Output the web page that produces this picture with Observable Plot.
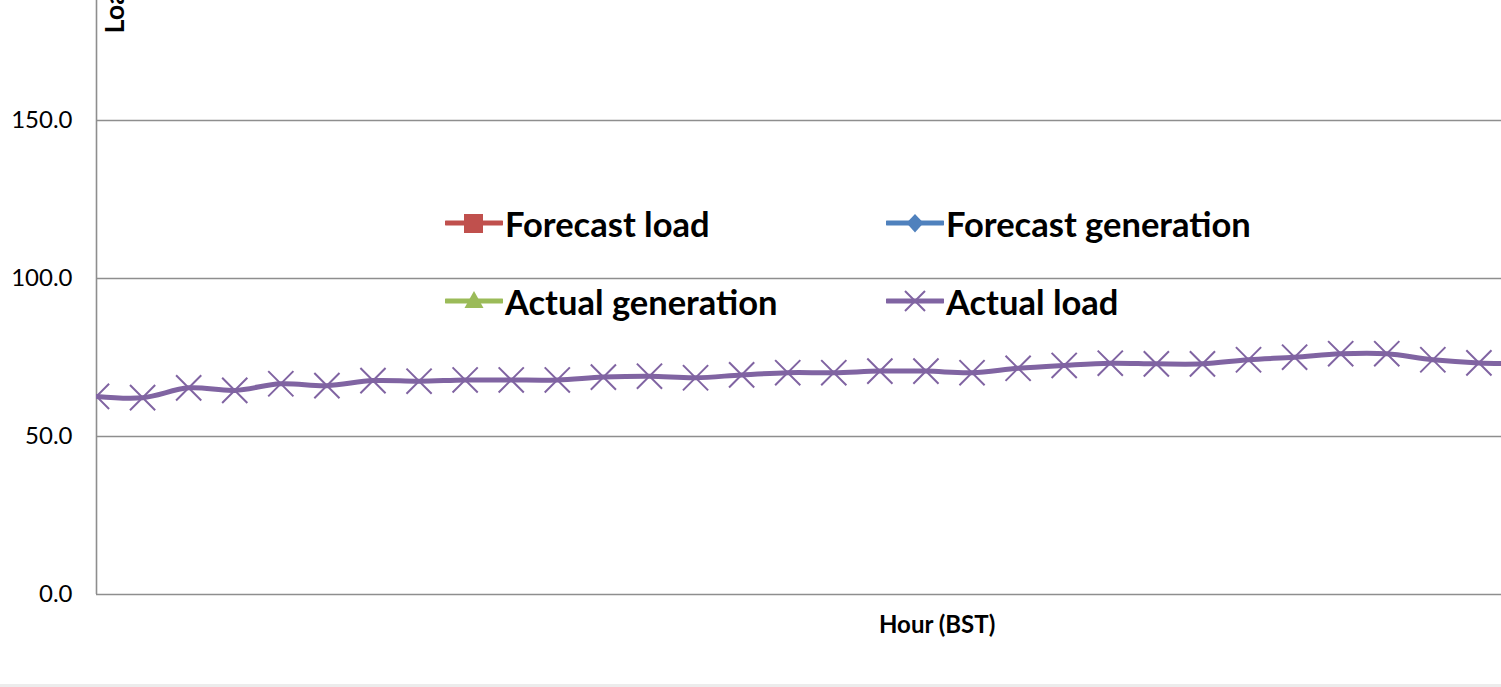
<!DOCTYPE html>
<html>
<head>
<meta charset="utf-8">
<script src="https://cdn.jsdelivr.net/npm/d3@7"></script>
<script src="https://cdn.jsdelivr.net/npm/@observablehq/plot@0.6"></script>
<style>
  html, body { margin: 0; padding: 0; background: #fff; }
  #wrap { position: relative; width: 1501px; height: 687px; overflow: hidden; font-family: Lato, "Open Sans", sans-serif; }
  #chart svg { display: block; }
  #legend { position: absolute; left: 445px; top: 203px; display: grid; grid-template-columns: 441px 441px; grid-auto-rows: 78px; }
  .entry { display: flex; align-items: center; height: 40px; }
  .entry svg { width: 58px; height: 26px; margin-right: 2px; flex: none; }
  .entry span { font-weight: bold; font-size: 34.5px; color: #000; white-space: nowrap; }
  #xlabel { position: absolute; left: 879px; top: 609px; font-weight: bold; font-size: 24px; color: #000; }
  #bottomline { position: absolute; left: 0; top: 684px; width: 1501px; height: 3px; background: #ececec; }
</style>
</head>
<body>
<div id="wrap">
  <div id="chart"></div>
  <div id="legend"></div>
  <div id="xlabel">Hour (BST)</div>
  <div id="bottomline"></div>
</div>
<script>
// ---- data ----
const seriesNames = ["Forecast load", "Forecast generation", "Actual generation", "Actual load"];
const seriesColors = ["#C0504D", "#4F81BD", "#9BBB59", "#8064A2"];
const seriesSymbols = ["square", "diamond", "triangle", "times"];
// half-hour period index (the chart is cropped on the right)
const periods = [0,1,2,3,4,5,6,7,8,9,10,11,12,13,14,15,16,17,18,19,20,21,22,23,24,25,26,27,28,29,30,31];
const actualLoad = [62.7, 62.3, 65.4, 64.6, 66.7, 66.1, 67.7, 67.5, 67.9, 67.9, 67.9,
                    68.8, 69.1, 68.6, 69.5, 70.2, 70.2, 70.7, 70.7, 70.2, 71.6,
                    72.5, 73.2, 73.0, 73.0, 74.3, 75.1, 76.2, 76.2, 74.3, 73.3, 73.1];
const forecastLoad = [];
const forecastGeneration = [];
const actualGeneration = [];
const yTicks = [0, 50, 100, 150];
const yLabel = "Load (MW)";
const xLabel = "Hour (BST)";

const rows = periods.map((p, i) => ({period: p, value: actualLoad[i]}));

const gray = "#8e8e8e";
const chart = Plot.plot({
  width: 1501,
  height: 687,
  marginLeft: 96,
  marginRight: 0,
  marginTop: 0,
  marginBottom: 93,
  style: {fontFamily: "Lato, 'Open Sans', sans-serif", fontSize: "24px", color: "#000", background: "transparent"},
  x: {domain: [0, 30.49], axis: null},
  y: {domain: [0, 188], ticks: yTicks, tickFormat: d3.format(".1f"), tickSize: 0, tickPadding: 24, label: null},
  marks: [
    Plot.gridY(yTicks, {stroke: gray, strokeOpacity: 1, strokeWidth: 1.6}),
    Plot.ruleX([0], {stroke: gray, strokeWidth: 1.6}),
    Plot.line(rows, {x: "period", y: "value", stroke: seriesColors[3], strokeWidth: 5, curve: "catmull-rom", clip: true}),
    Plot.dot(rows, {x: "period", y: "value", symbol: "times", r: 11.5, stroke: seriesColors[3], strokeWidth: 2, clip: true}),
    Plot.text([yLabel], {frameAnchor: "top-left", dx: 19, dy: 33, rotate: -90, textAnchor: "start", lineAnchor: "middle", fontWeight: "bold", fontSize: 27, fill: "#000"})
  ]
});
document.getElementById("chart").appendChild(chart);

// ---- legend ----
function glyph(sym, color) {
  const line = `<line x1="1" y1="13" x2="57" y2="13" stroke="${color}" stroke-width="5" stroke-linecap="round"/>`;
  let m = "";
  if (sym === "square") m = `<rect x="19" y="4" width="19" height="19" fill="${color}"/>`;
  if (sym === "diamond") m = `<path d="M29,4 L37.5,13 L29,22.5 L20.5,13 Z" fill="${color}"/>`;
  if (sym === "triangle") m = `<path d="M29,3 L38.5,20 L19.5,20 Z" fill="${color}"/>`;
  if (sym === "times") m = `<path d="M19,3 L39,23 M39,3 L19,23" stroke="${color}" stroke-width="2"/>`;
  return `<svg viewBox="0 0 58 26">${line}${m}</svg>`;
}
const legend = document.getElementById("legend");
seriesNames.forEach((name, i) => {
  const d = document.createElement("div");
  d.className = "entry";
  d.innerHTML = glyph(seriesSymbols[i], seriesColors[i]) + `<span>${name}</span>`;
  legend.appendChild(d);
});
</script>
</body>
</html>
